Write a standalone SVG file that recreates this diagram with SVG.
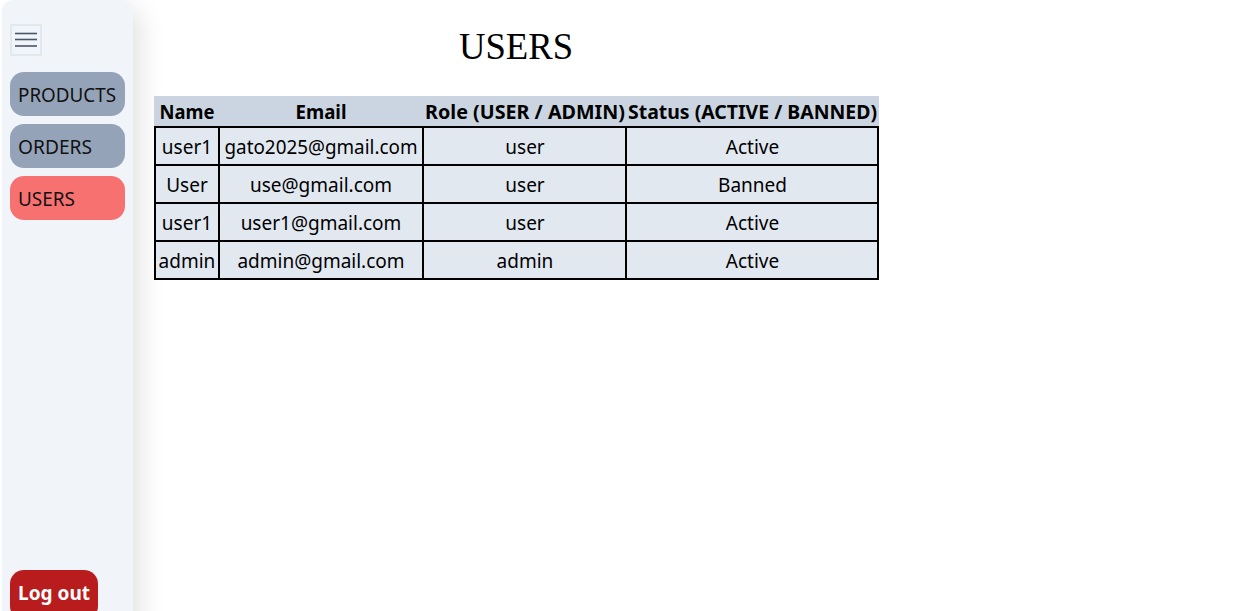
<svg xmlns="http://www.w3.org/2000/svg" width="1239" height="611" viewBox="0 0 1239 611">
<defs>
<filter id="blur" x="-50%" y="-20%" width="200%" height="140%">
<feGaussianBlur stdDeviation="14"/>
</filter>
<style>
.t{font-family:"Segoe UI","Noto Sans","Open Sans","Liberation Sans",sans-serif;font-size:19px;fill:#000}
.b{font-weight:bold}
.c{text-anchor:middle}
.cell{fill:#e2e8f0;stroke:#000;stroke-width:2}
.nav{font-family:"Segoe UI","Noto Sans","Open Sans","Liberation Sans",sans-serif;font-size:19px;fill:#111}
</style>
</defs>
<rect width="1239" height="611" fill="#fff"/>
<g id="sidebar">
<rect x="20" y="10" width="118" height="640" fill="#000" opacity="0.13" filter="url(#blur)"/>
<path d="M2 611 V12 Q2 0 14 0 H121 Q133 0 133 12 V611 Z" fill="#f1f5f9"/>
</g>
<g id="menu-toggle">
<rect x="11" y="25" width="30" height="30" fill="#f1f5f9" stroke="#e2e8f0" stroke-width="2"/>
<g stroke="#475569" stroke-width="1.6">
<line x1="15" y1="33.5" x2="37" y2="33.5"/>
<line x1="15" y1="39.5" x2="37" y2="39.5"/>
<line x1="15" y1="46" x2="37" y2="46"/>
</g>
</g>
<g id="nav-products">
<rect x="10" y="72" width="115" height="44" rx="14" fill="#94a3b8"/>
<text class="nav" x="18" y="102" textLength="98" lengthAdjust="spacingAndGlyphs">PRODUCTS</text>
</g>
<g id="nav-orders">
<rect x="10" y="124" width="115" height="44" rx="14" fill="#94a3b8"/>
<text class="nav" x="18" y="154" textLength="74" lengthAdjust="spacingAndGlyphs">ORDERS</text>
</g>
<g id="nav-users">
<rect x="10" y="176" width="115" height="44" rx="14" fill="#f87171"/>
<text class="nav" x="18" y="206" textLength="57" lengthAdjust="spacingAndGlyphs">USERS</text>
</g>
<g id="logout">
<rect x="10" y="570" width="88" height="50" rx="14" fill="#b91c1c"/>
<text x="18" y="600" font-family="Segoe UI,Noto Sans,Open Sans,Liberation Sans,sans-serif" font-size="20" font-weight="bold" fill="#fff" textLength="72" lengthAdjust="spacingAndGlyphs">Log out</text>
</g>
<text id="title" x="516" y="59" text-anchor="middle" font-family="Liberation Serif,Times New Roman,serif" font-size="37" fill="#000" textLength="114" lengthAdjust="spacingAndGlyphs">USERS</text>
<g id="users-table">
<rect x="154" y="96" width="725" height="30" fill="#cbd5e1"/>
<g class="t b c">
<text x="187" y="119" textLength="55" lengthAdjust="spacingAndGlyphs">Name</text>
<text x="321" y="119" textLength="51" lengthAdjust="spacingAndGlyphs">Email</text>
<text x="525" y="119" textLength="200" lengthAdjust="spacingAndGlyphs">Role (USER / ADMIN)</text>
<text x="752.5" y="119" textLength="249" lengthAdjust="spacingAndGlyphs">Status (ACTIVE / BANNED)</text>
</g>
<g id="row1">
<rect class="cell" x="155" y="127" width="64" height="38"/>
<rect class="cell" x="219" y="127" width="204" height="38"/>
<rect class="cell" x="423" y="127" width="203" height="38"/>
<rect class="cell" x="626" y="127" width="252" height="38"/>
</g>
<g id="row2">
<rect class="cell" x="155" y="165" width="64" height="38"/>
<rect class="cell" x="219" y="165" width="204" height="38"/>
<rect class="cell" x="423" y="165" width="203" height="38"/>
<rect class="cell" x="626" y="165" width="252" height="38"/>
</g>
<g id="row3">
<rect class="cell" x="155" y="203" width="64" height="38"/>
<rect class="cell" x="219" y="203" width="204" height="38"/>
<rect class="cell" x="423" y="203" width="203" height="38"/>
<rect class="cell" x="626" y="203" width="252" height="38"/>
</g>
<g id="row4">
<rect class="cell" x="155" y="241" width="64" height="38"/>
<rect class="cell" x="219" y="241" width="204" height="38"/>
<rect class="cell" x="423" y="241" width="203" height="38"/>
<rect class="cell" x="626" y="241" width="252" height="38"/>
</g>
<g class="t c">
<text x="187" y="154">user1</text>
<text x="321" y="154" textLength="193" lengthAdjust="spacingAndGlyphs">gato2025@gmail.com</text>
<text x="525" y="154">user</text>
<text x="752.5" y="154">Active</text>
<text x="187" y="192">User</text>
<text x="321" y="192">use@gmail.com</text>
<text x="525" y="192">user</text>
<text x="752.5" y="192">Banned</text>
<text x="187" y="230">user1</text>
<text x="321" y="230">user1@gmail.com</text>
<text x="525" y="230">user</text>
<text x="752.5" y="230">Active</text>
<text x="187" y="268">admin</text>
<text x="321" y="268">admin@gmail.com</text>
<text x="525" y="268">admin</text>
<text x="752.5" y="268">Active</text>
</g>
</g>
</svg>
